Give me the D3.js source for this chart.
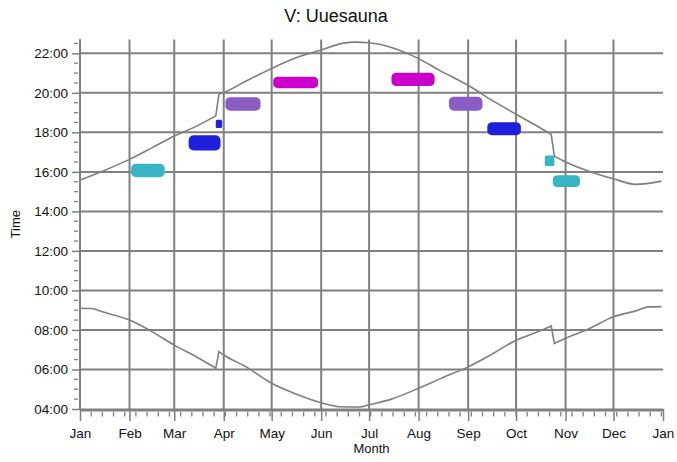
<!DOCTYPE html>
<html>
<head>
<meta charset="utf-8">
<script src="https://cdn.jsdelivr.net/npm/d3@7"></script>
<style>
  html, body { margin: 0; padding: 0; background: #fff; }
  svg { display: block; font-family: "Liberation Sans", Arial, sans-serif; }
</style>
</head>
<body>
<svg id="chart" width="677" height="462"></svg>
<script>
// ---------- data ----------
const YEAR = 2010;
const title = "V: Uuesauna";
const xTitle = "Month";
const yTitle = "Time";
const yTickLabels = ["04:00","06:00","08:00","10:00","12:00","14:00","16:00","18:00","20:00","22:00"];

// sunset curve (date MM-DD, time HH:MM)
const sunsetDates = ["01-01","01-15","02-01","02-15","03-01","03-15","03-27","03-29","04-01","04-15","05-01","05-15","06-01","06-15","06-22","07-01","07-15","08-01","08-15","09-01","09-15","10-01","10-15","10-23","10-25","11-01","11-15","12-01","12-15","12-31"];
const sunsetTimes = ["15:35","16:02","16:38","17:13","17:49","18:19","18:50","19:56","20:01","20:36","21:14","21:44","22:10","22:31","22:34","22:32","22:18","21:44","21:06","20:23","19:40","18:55","18:17","17:54","16:48","16:30","16:03","15:39","15:22","15:32"];

// sunrise curve
const sunriseDates = ["01-01","01-08","01-15","02-01","02-15","03-01","03-15","03-27","03-29","04-01","04-15","05-01","05-15","06-01","06-12","06-25","07-01","07-15","08-01","08-15","09-01","09-15","10-01","10-15","10-23","10-25","11-01","11-15","12-01","12-15","12-23","12-31"];
const sunriseTimes = ["09:06","09:05","08:55","08:30","07:55","07:14","06:38","06:04","06:54","06:44","06:08","05:18","04:48","04:19","04:07","04:06","04:13","04:30","05:03","05:33","06:08","06:44","07:29","07:55","08:12","07:19","07:35","08:02","08:40","08:58","09:10","09:11"];

// sauna session clusters
const clusterStart = ["02-02","03-10","03-27","04-02","05-02","07-15","08-20","09-13","10-19","10-24"];
const clusterEnd   = ["02-23","03-30","03-31","04-24","05-30","08-11","09-10","10-04","10-25","11-10"];
const clusterFrom  = ["15:44","17:05","18:13","19:06","20:14","20:21","19:06","17:51","16:18","15:14"];
const clusterTo    = ["16:25","17:51","18:38","19:47","20:49","21:01","19:48","18:31","16:50","15:50"];
const clusterGroup = ["cyan","blue","blue","purple","magenta","magenta","purple","blue","cyan","cyan"];

// ---------- helpers ----------
const colors = {cyan:"#38b5c5", blue:"#2020dc", purple:"#8a5cc4", magenta:"#cc00cc"};
const pd = s => d3.timeParse("%Y-%m-%d")(YEAR + "-" + s);
const pt = s => { const [h,m] = s.split(":").map(Number); return h + m/60; };

const svg = d3.select("#chart");
const L = 80, R = 663, T = 39.5, B = 409;

const x = d3.scaleTime().domain([new Date(YEAR,0,1), new Date(YEAR+1,0,1)]).range([L, R]);
const y = d3.scaleLinear().domain([4, 22.7]).range([B, T]);

const grid = "#808080";
const font = '"Liberation Sans", Arial, sans-serif';

// horizontal grid
const majorHours = yTickLabels.map(pt);
svg.append("g").selectAll("line").data(majorHours.filter(h => h > 4)).join("line")
  .attr("x1", L).attr("x2", R)
  .attr("y1", d => y(d)).attr("y2", d => y(d))
  .attr("stroke", grid).attr("stroke-width", 2);

// vertical grid (month starts)
const months = d3.timeMonth.range(new Date(YEAR,0,1), new Date(YEAR+1,0,2));
svg.append("g").selectAll("line").data(months.filter(d => +d !== +new Date(YEAR+1,0,1))).join("line")
  .attr("x1", d => x(d)).attr("x2", d => x(d))
  .attr("y1", T).attr("y2", B)
  .attr("stroke", grid).attr("stroke-width", 2);

// clusters
const clusters = clusterStart.map((s,i) => ({s: pd(s), e: pd(clusterEnd[i]), f: pt(clusterFrom[i]), t: pt(clusterTo[i]), g: clusterGroup[i]}));
svg.append("g").selectAll("rect").data(clusters).join("rect")
  .attr("x", d => x(d.s)).attr("width", d => x(d.e) - x(d.s))
  .attr("y", d => y(d.t)).attr("height", d => y(d.f) - y(d.t))
  .attr("rx", d => (x(d.e) - x(d.s)) < 12 ? 1.5 : 5)
  .attr("ry", d => (x(d.e) - x(d.s)) < 12 ? 1.5 : (y(d.f) - y(d.t)) / 3)
  .attr("fill", d => colors[d.g]);

// curves: smooth pieces, straight at the clock-change jumps
const smooth = d3.line().x(d => x(d[0])).y(d => y(d[1])).curve(d3.curveMonotoneX);
function curvePath(data) {
  const pieces = [[data[0]]];
  for (let i = 1; i < data.length; i++) {
    const days = (data[i][0] - data[i-1][0]) / 864e5;
    if (days <= 3 && Math.abs(data[i][1] - data[i-1][1]) > 0.5) pieces.push([data[i]]);
    else pieces[pieces.length - 1].push(data[i]);
  }
  return pieces.map((p, k) => {
    const s = smooth(p);
    return k === 0 ? s : "L" + s.slice(1);
  }).join("");
}
const sunset = sunsetDates.map((d,i) => [pd(d), pt(sunsetTimes[i])]);
const sunrise = sunriseDates.map((d,i) => [pd(d), pt(sunriseTimes[i])]);
[sunset, sunrise].forEach(data => {
  svg.append("path").attr("d", curvePath(data))
    .attr("fill", "none").attr("stroke", "#7f7f7f").attr("stroke-width", 1.6);
});

// bottom axis
svg.append("line").attr("x1", L).attr("x2", R).attr("y1", B + 1).attr("y2", B + 1)
  .attr("stroke", grid).attr("stroke-width", 3);
const xAxis = d3.axisBottom(x).tickValues(months).tickFormat(d3.timeFormat("%b")).tickSize(12).tickSizeOuter(0);
const gx = svg.append("g").attr("transform", `translate(0,${B})`).call(xAxis);
gx.select(".domain").remove();
gx.selectAll(".tick line").attr("stroke", grid).attr("stroke-width", 1.5);
gx.selectAll(".tick text").attr("font-size", 13.5).attr("fill", "#111").attr("dy", "1.0em")
  .attr("font-family", font);
// weekly minor ticks
const weeks = d3.range(7, 365, 7).map(d => d3.timeDay.offset(new Date(YEAR,0,1), d));
svg.append("g").selectAll("line").data(weeks).join("line")
  .attr("x1", d => x(d)).attr("x2", d => x(d))
  .attr("y1", B + 3).attr("y2", B + 7.5)
  .attr("stroke", grid).attr("stroke-width", 1.3);

// left axis ticks
const yAxis = d3.axisLeft(y).tickValues(majorHours).tickFormat((d,i) => yTickLabels[i]).tickSize(8).tickPadding(4);
const gy = svg.append("g").attr("transform", `translate(${L},0)`).call(yAxis);
gy.select(".domain").remove();
gy.selectAll(".tick line").attr("stroke", grid).attr("stroke-width", 1.5);
gy.selectAll(".tick text").attr("font-size", 13.5).attr("fill", "#111")
  .attr("font-family", font);
const halfHours = d3.range(4.5, 22.7, 0.5).filter(h => !majorHours.includes(h));
svg.append("g").selectAll("line").data(halfHours).join("line")
  .attr("x1", L - 6).attr("x2", L - 2)
  .attr("y1", d => y(d)).attr("y2", d => y(d))
  .attr("stroke", grid).attr("stroke-width", 1.3);
svg.append("line").attr("x1", L).attr("x2", L).attr("y1", T).attr("y2", B)
  .attr("stroke", grid).attr("stroke-width", 2);

// titles
svg.append("text").attr("x", 336).attr("y", 22).attr("text-anchor", "middle")
  .attr("font-size", 18).attr("fill", "#111").text(title);
svg.append("text").attr("x", (L + R) / 2).attr("y", 453).attr("text-anchor", "middle")
  .attr("font-size", 13).attr("fill", "#111").text(xTitle);
svg.append("text").attr("transform", `translate(20,${(T + B) / 2}) rotate(-90)`)
  .attr("text-anchor", "middle").attr("font-size", 13).attr("fill", "#111").text(yTitle);
</script>
</body>
</html>
